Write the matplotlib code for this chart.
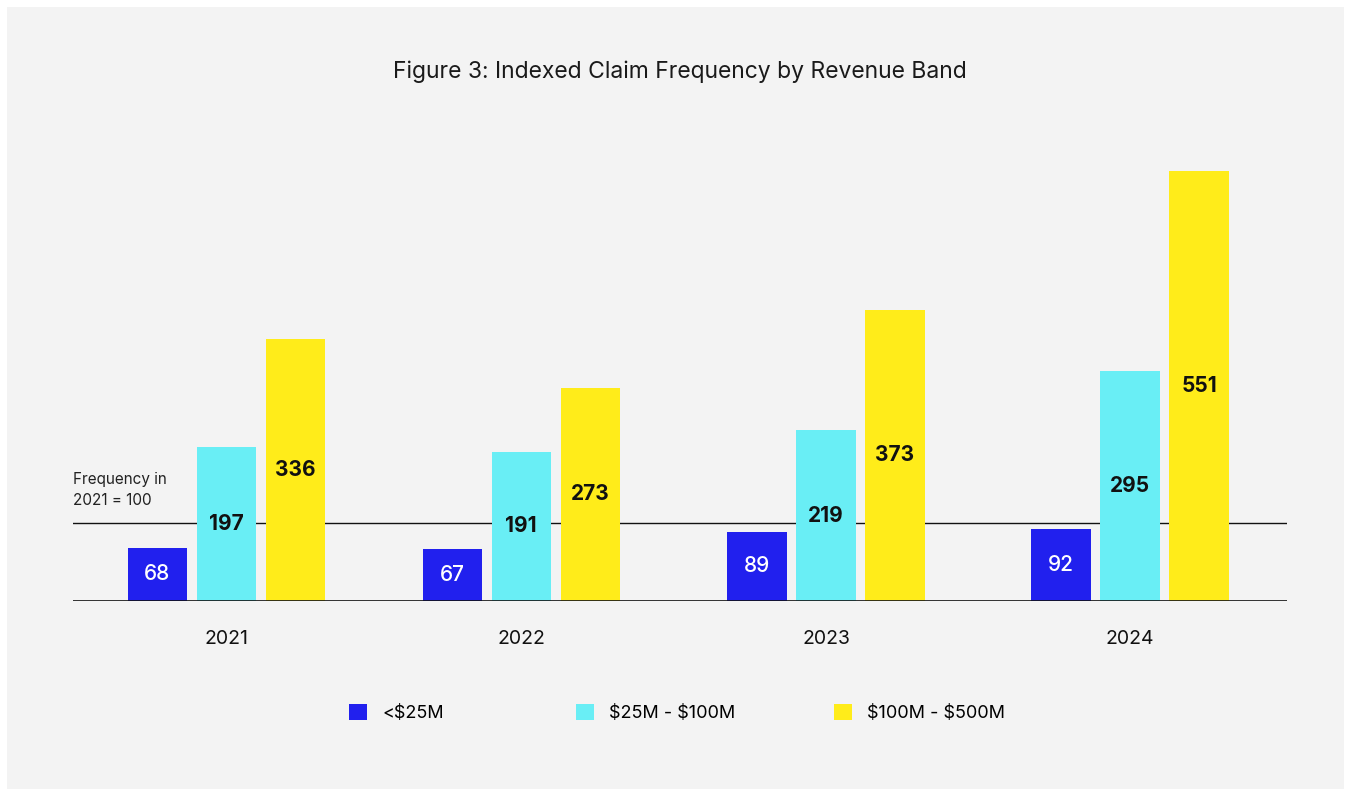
import matplotlib
matplotlib.use("Agg")
import matplotlib.pyplot as plt
from matplotlib.patches import Rectangle, Patch
import numpy as np

years = ["2021", "2022", "2023", "2024"]
bands = ["<\\$25M", "\\$25M - \\$100M", "\\$100M - \\$500M"]
small = [68, 67, 89, 92]
mid = [197, 191, 219, 295]
large = [336, 273, 373, 551]
colors = ["#2120ee", "#69eef5", "#ffec1a"]
label_colors = ["white", "#111111", "#111111"]
label_weights = ["medium", "bold", "bold"]
reference_level = 100

plt.rcParams["font.family"] = ["Inter", "DejaVu Sans"]

W, H = 1351, 796
fig = plt.figure(figsize=(W / 100, H / 100), dpi=100, facecolor="white")

# light grey panel behind everything
fig.patches.append(Rectangle((7 / W, 7 / H), (1344 - 7) / W, (789 - 7) / H,
                             transform=fig.transFigure, facecolor="#f3f3f3",
                             edgecolor="none", zorder=-10))

ax = fig.add_axes([73 / W, 195 / H, (1287 - 73) / W, 451 / H])
ax.set_facecolor("none")
ax.set_zorder(1)
ax.set_xlim(-0.508, 3.521)
ax.set_ylim(0, 578)

# group centres (slightly irregular spacing)
x = np.array([0.0, 0.979, 1.991, 3.0])
width = 0.196
step = 0.229
series = [small, mid, large]
for i, vals in enumerate(series):
    pos = x + (i - 1) * step
    bars = ax.bar(pos, vals, width=width, color=colors[i], zorder=3)
    for b, v in zip(bars, vals):
        ax.text(b.get_x() + b.get_width() / 2, v / 2, str(v),
                ha="center", va="center", fontsize=15,
                color=label_colors[i], fontweight=label_weights[i], zorder=4)

ax.axhline(reference_level, color="#111111", lw=1.0, zorder=2)
ax.axhline(0, color="#111111", lw=1.2, zorder=5)
ax.text(-0.508, reference_level + 19, "Frequency in\n2021 = 100",
        ha="left", va="bottom", fontsize=11, color="#222222",
        linespacing=1.55)

for s in ax.spines.values():
    s.set_visible(False)
ax.set_yticks([])
ax.set_xticks(x)
ax.set_xticklabels(years, fontsize=14, color="#111111")
ax.tick_params(axis="x", length=0, pad=21)

fig.text(680 / W, 1 - 72 / H, "Figure 3: Indexed Claim Frequency by Revenue Band",
         ha="center", va="center", fontsize=16.5, fontweight="normal",
         color="#1a1a1a")

legend_x = [349, 576, 834]
for name, col, lx in zip(bands, colors, legend_x):
    leg = fig.legend(handles=[Patch(facecolor=col, edgecolor="none")],
                     labels=[name], loc="center left",
                     bbox_to_anchor=(lx / W, 1 - 713 / H), frameon=False,
                     fontsize=13, handlelength=1.0, handleheight=1.0,
                     handletextpad=0.85, borderpad=0, borderaxespad=0)

fig.savefig("out.png", dpi=100, facecolor="white")
